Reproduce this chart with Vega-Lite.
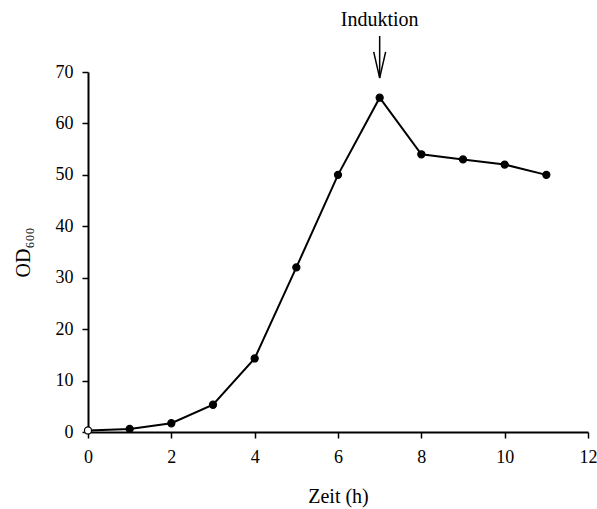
{
  "$schema": "https://vega.github.io/schema/vega-lite/v6.json",
  "width": 500,
  "height": 360,
  "autosize": {"type": "none"},
  "padding": {"left": 88, "top": 72, "right": 9, "bottom": 77},
  "background": "white",
  "config": {
    "view": {"stroke": null},
    "font": "Liberation Serif",
    "axis": {
      "grid": false,
      "labelFlush": false,
      "domainColor": "black",
      "domainWidth": 2,
      "tickColor": "black",
      "tickWidth": 1.5,
      "tickSize": 6,
      "labelFont": "Liberation Serif",
      "labelFontSize": 18,
      "labelColor": "black",
      "titleFont": "Liberation Serif",
      "titleFontSize": 20,
      "titleFontWeight": "normal",
      "titleColor": "black"
    }
  },
  "datasets": {
    "growth": [
      {"t": 0, "od": 0.3},
      {"t": 1, "od": 0.6},
      {"t": 2, "od": 1.7},
      {"t": 3, "od": 5.3},
      {"t": 4, "od": 14.3},
      {"t": 5, "od": 32},
      {"t": 6, "od": 50},
      {"t": 7, "od": 65},
      {"t": 8, "od": 54},
      {"t": 9, "od": 53},
      {"t": 10, "od": 52},
      {"t": 11, "od": 50}
    ],
    "arrow": [
      {"t": 7, "y1": 68.8, "y2": 77.0, "head": 71.4, "label": 80.1, "text": "Induktion"}
    ]
  },
  "layer": [
    {
      "data": {"name": "growth"},
      "mark": {"type": "line", "color": "black", "strokeWidth": 2},
      "encoding": {
        "x": {
          "field": "t", "type": "quantitative",
          "scale": {"domain": [0, 12], "nice": false},
          "axis": {"values": [0, 2, 4, 6, 8, 10, 12], "title": "Zeit (h)", "labelPadding": 10, "titlePadding": 20}
        },
        "y": {
          "field": "od", "type": "quantitative",
          "scale": {"domain": [0, 70], "nice": false},
          "axis": {"values": [0, 10, 20, 30, 40, 50, 60, 70], "title": "OD₆₀₀", "labelPadding": 9, "titlePadding": 22}
        }
      }
    },
    {
      "data": {"name": "growth"},
      "mark": {"type": "point", "filled": true, "size": 50, "strokeWidth": 1.2, "stroke": "black", "opacity": 1},
      "encoding": {
        "x": {"field": "t", "type": "quantitative"},
        "y": {"field": "od", "type": "quantitative"},
        "fill": {"condition": {"test": "datum.t === 0", "value": "white"}, "value": "black"}
      }
    },
    {
      "data": {"name": "arrow"},
      "mark": {"type": "rule", "color": "black", "strokeWidth": 1.5},
      "encoding": {
        "x": {"field": "t", "type": "quantitative"},
        "y": {"field": "y1", "type": "quantitative"},
        "y2": {"field": "y2"}
      }
    },
    {
      "data": {"name": "arrow"},
      "mark": {"type": "point", "shape": "M-0.46,-1L0,1L0.46,-1", "filled": false, "size": 676, "stroke": "black", "strokeWidth": 1.5, "opacity": 1},
      "encoding": {
        "x": {"field": "t", "type": "quantitative"},
        "y": {"field": "head", "type": "quantitative"}
      }
    },
    {
      "data": {"name": "arrow"},
      "mark": {"type": "text", "font": "Liberation Serif", "fontSize": 20, "color": "black", "baseline": "middle", "align": "center"},
      "encoding": {
        "x": {"field": "t", "type": "quantitative"},
        "y": {"field": "label", "type": "quantitative"},
        "text": {"field": "text"}
      }
    }
  ]
}
